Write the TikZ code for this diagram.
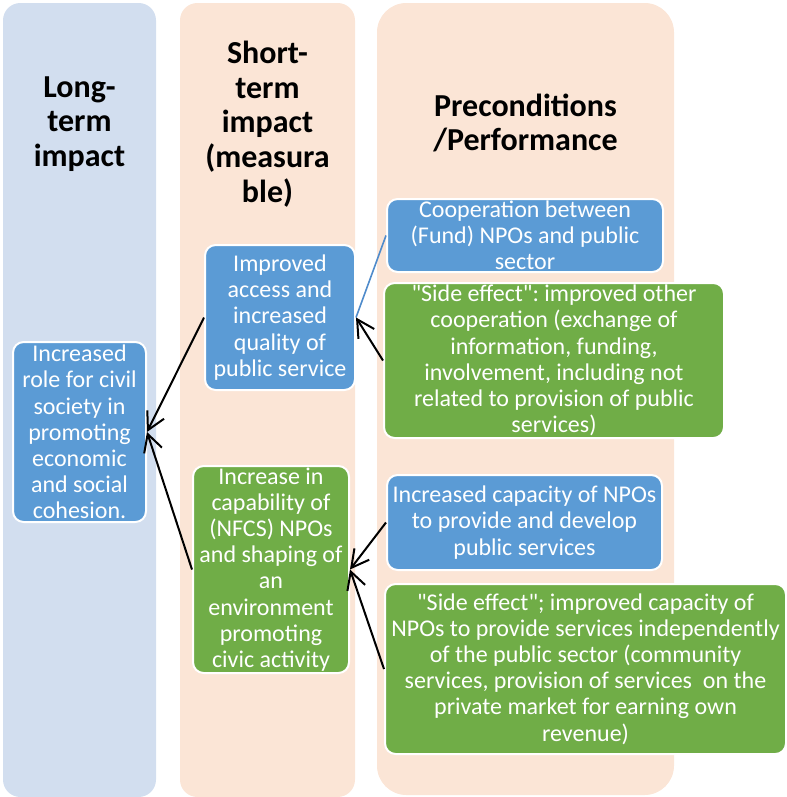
\documentclass[tikz,border=0pt]{standalone}
\usepackage{fontspec}
\setmainfont{Carlito}[Ligatures=TeXOff]
\usetikzlibrary{arrows.meta}

\definecolor{longbg}{HTML}{D2DEEF}
\definecolor{shortbg}{HTML}{FBE5D6}
\definecolor{boxblue}{HTML}{5B9BD5}
\definecolor{boxgreen}{HTML}{70AD47}
\definecolor{linkblue}{HTML}{4F8BCB}

\frenchspacing

\begin{document}
\begin{tikzpicture}[x=0.75pt, y=-0.75pt,
    head/.style={font=\fontsize{24}{26}\selectfont\bfseries, align=center, inner sep=0pt},
    box/.style={draw=white, line width=1.5pt, rounded corners=8pt, text=white, align=center,
                inner sep=0pt, font=\fontsize{18}{19.6}\selectfont},
    bluebox/.style={box, fill=boxblue},
    greenbox/.style={box, fill=boxgreen},
    link/.style={line width=1.5pt, -{Straight Barb[length=13pt, width=14pt]}}
]

    \def \u {0.75pt}

    \useasboundingbox (0,0) rectangle (787,797);

    % the three columns
    \fill[longbg, rounded corners=13pt] (3,3) rectangle (156,797);
    \fill[shortbg, rounded corners=13pt] (180,3) rectangle (355,797);
    \fill[shortbg, rounded corners=22pt] (377,3) rectangle (674,795);

    \node[head] (hlong) at (79.5,124) {Long-\\term\\impact};
    \node[head] (hshort) at (267.5,124) {Short-\\term\\impact\\(measura\\ble)};
    \node[head] (hpre) at (525.5,123) {Preconditions\\/Performance};

    \node[bluebox, minimum width=133*\u, minimum height=180*\u] (lt) at (79.5,432)
        {Increased\\role for civil\\society in\\promoting\\economic\\and social\\cohesion.};

    \node[bluebox, minimum width=150*\u, minimum height=145*\u] (st1) at (280,317.5)
        {Improved\\access and\\increased\\quality of\\public service};
    \node[greenbox, minimum width=156*\u, minimum height=207*\u] (st2) at (271,569.5)
        {Increase in\\capability of\\(NFCS) NPOs\\and shaping of\\an\\environment\\promoting\\civic activity};

    \node[bluebox, minimum width=276*\u, minimum height=73*\u] (p1) at (525,235.5)
        {Cooperation between\\(Fund) NPOs and public\\sector};
    \node[greenbox, minimum width=340*\u, minimum height=155*\u] (p2) at (554,360.5)
        {"Side effect": improved other\\cooperation (exchange of\\information, funding,\\involvement, including not\\related to provision of public\\services)};
    \node[bluebox, minimum width=275*\u, minimum height=95*\u] (p3) at (524.5,522.5)
        {Increased capacity of NPOs\\to provide and develop\\public services};
    \node[greenbox, minimum width=401*\u, minimum height=170*\u] (p4) at (585.5,669)
        {"Side effect"; improved capacity of\\NPOs to provide services independently\\of the public sector (community\\services, provision of services\ \ on the\\private market for earning own\\revenue)};

    \draw[linkblue, line width=1.2pt] (p1.west) -- (st1.east);
    \draw[link] (p2.west) -- (st1.east);
    \draw[link] (p3.west) -- (st2.east);
    \draw[link] (p4.west) -- (st2.east);
    \draw[link] (st1.west) -- (lt.east);
    \draw[link] (st2.west) -- (lt.east);

\end{tikzpicture}
\end{document}
